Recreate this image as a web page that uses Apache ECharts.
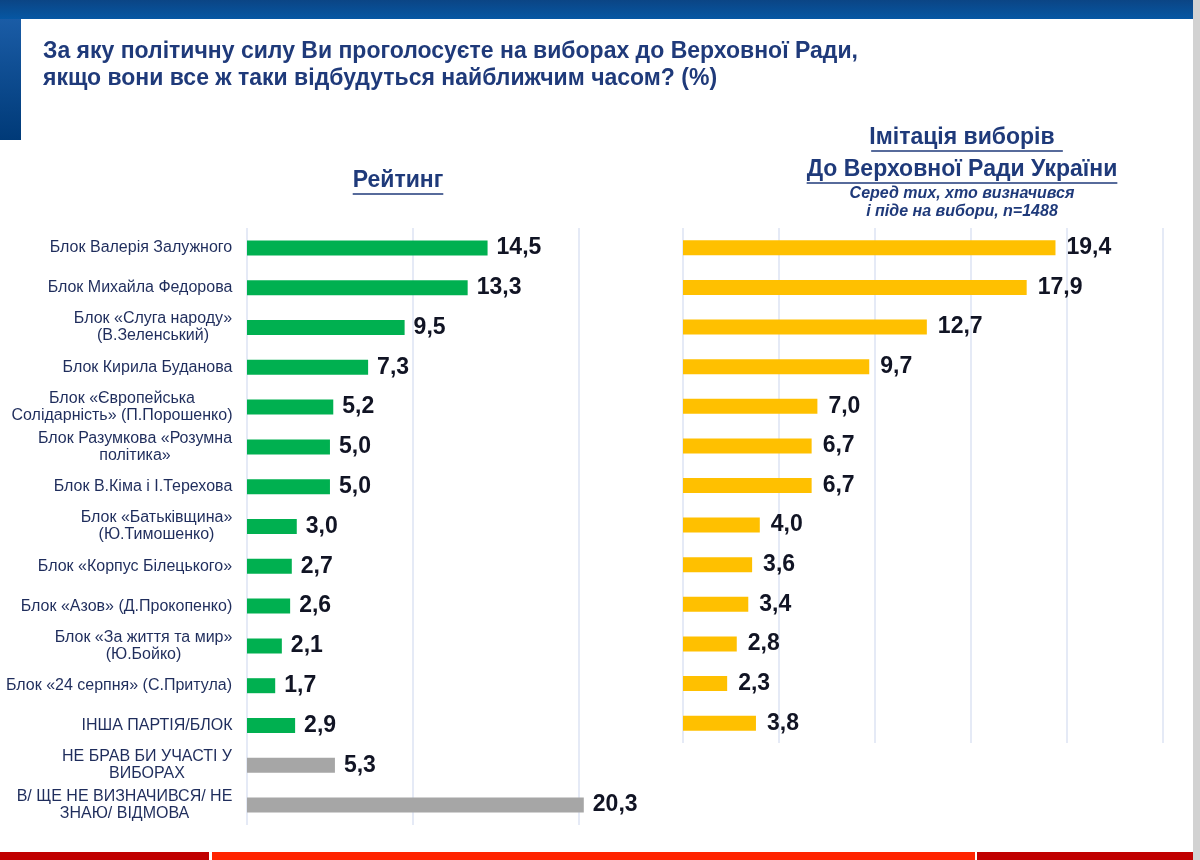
<!DOCTYPE html>
<html lang="uk">
<head>
    <meta charset="UTF-8">
    <title>Рейтинг та імітація виборів</title>
    <script src="https://cdn.jsdelivr.net/npm/echarts@6/dist/echarts.min.js"></script>
    <style>
        html, body { margin: 0; padding: 0; background: #fff; }
        #chart { width: 1200px; height: 860px; }
    </style>
</head>
<body>
    <div id="chart"></div>

    <script>
        // категорії (спільні для обох діаграм, останні дві - лише в рейтингу)
        var categories = [
            'Блок Валерія Залужного',
            'Блок Михайла Федорова',
            'Блок «Слуга народу»\n(В.Зеленський)',
            'Блок Кирила Буданова',
            'Блок «Європейська\nСолідарність» (П.Порошенко)',
            'Блок Разумкова «Розумна\nполітика»',
            'Блок В.Кіма і І.Терехова',
            'Блок «Батьківщина»\n(Ю.Тимошенко)',
            'Блок «Корпус Білецького»',
            'Блок «Азов» (Д.Прокопенко)',
            'Блок «За життя та мир»\n(Ю.Бойко)',
            'Блок «24 серпня» (С.Притула)',
            'ІНША ПАРТІЯ/БЛОК',
            'НЕ БРАВ БИ УЧАСТІ У\nВИБОРАХ',
            'В/ ЩЕ НЕ ВИЗНАЧИВСЯ/ НЕ\nЗНАЮ/ ВІДМОВА'
        ];
        var rating = [14.5, 13.3, 9.5, 7.3, 5.2, 5.0, 5.0, 3.0, 2.7, 2.6, 2.1, 1.7, 2.9, 5.3, 20.3];
        var simulation = [19.4, 17.9, 12.7, 9.7, 7.0, 6.7, 6.7, 4.0, 3.6, 3.4, 2.8, 2.3, 3.8];
        // скільки рядків у рейтингу - партії (решта сірі)
        var partyRows = 13;

        var NAVY = '#1f3a7a';
        var LABEL = '#1f2d5c';
        var GRID = '#dce3f3';
        var FONT = '"Liberation Sans", Arial, sans-serif';
        var CAT_SIZE = 16;

        // ширина тексту для центрування багаторядкових підписів
        var ctx = document.createElement('canvas').getContext('2d');
        function textWidth(s, font) {
            ctx.font = font;
            return ctx.measureText(s).width;
        }

        var rich = {};
        categories.forEach(function (c, i) {
            var w = 0;
            c.split('\n').forEach(function (l) {
                w = Math.max(w, textWidth(l, CAT_SIZE + 'px ' + FONT));
            });
            rich['r' + i] = {
                width: Math.ceil(w) + 1,
                align: 'center',
                fontSize: CAT_SIZE,
                lineHeight: 17,
                color: LABEL,
                fontFamily: FONT
            };
        });

        function fmt(p) {
            return p.value.toFixed(1).replace('.', ',');
        }

        function underline(text, cx, y, font) {
            var w = textWidth(text, font);
            return {
                type: 'line',
                shape: { x1: cx - w / 2, y1: y, x2: cx + w / 2, y2: y },
                style: { stroke: NAVY, lineWidth: 1.5 }
            };
        }

        var headFont = 'bold 23px ' + FONT;

        var chart = echarts.init(document.getElementById('chart'), null, { renderer: 'canvas' });

        var option = {
            backgroundColor: '#fff',
            animation: false,
            graphic: [
                // верхня синя смуга
                {
                    type: 'rect', shape: { x: 0, y: 0, width: 1193, height: 19 },
                    style: { fill: new echarts.graphic.LinearGradient(0, 0, 0, 1, [
                        { offset: 0, color: '#0b4585' }, { offset: 1, color: '#0657a3' }]) }
                },
                // лівий синій блок
                {
                    type: 'rect', shape: { x: 0, y: 19, width: 21, height: 121 },
                    style: { fill: new echarts.graphic.LinearGradient(0, 0, 0, 1, [
                        { offset: 0, color: '#1a5ca6' }, { offset: 1, color: '#003a78' }]) }
                },
                // права сіра смуга
                { type: 'rect', shape: { x: 1193, y: 0, width: 7, height: 860 }, style: { fill: '#d2d2d2' } },
                // нижня червона смуга
                { type: 'rect', shape: { x: 0, y: 852, width: 209, height: 8 }, style: { fill: '#c00000' } },
                { type: 'rect', shape: { x: 212, y: 852, width: 763, height: 8 }, style: { fill: '#ff2400' } },
                { type: 'rect', shape: { x: 977, y: 852, width: 216, height: 8 }, style: { fill: '#c00000' } },
                // заголовок
                {
                    type: 'text', left: 43, top: 38,
                    style: {
                        text: 'За яку політичну силу Ви проголосуєте на виборах до Верховної Ради,\nякщо вони все ж таки відбудуться найближчим часом? (%)',
                        font: 'bold 23px ' + FONT, fill: NAVY, lineHeight: 27
                    }
                },
                // підзаголовки панелей
                {
                    type: 'text', x: 398, y: 181,
                    style: { text: 'Рейтинг', font: headFont, fill: NAVY, align: 'center', verticalAlign: 'middle' }
                },
                underline('Рейтинг', 398, 194, headFont),
                {
                    type: 'text', x: 962, y: 138,
                    style: { text: 'Імітація виборів', font: headFont, fill: NAVY, align: 'center', verticalAlign: 'middle' }
                },
                underline('Імітація виборів ', 967, 151, headFont),
                {
                    type: 'text', x: 962, y: 170,
                    style: { text: 'До Верховної Ради України', font: headFont, fill: NAVY, align: 'center', verticalAlign: 'middle' }
                },
                underline('До Верховної Ради України', 962, 183, headFont),
                {
                    type: 'text', x: 962, y: 203,
                    style: {
                        text: 'Серед тих, хто визначився\nі піде на вибори, n=1488',
                        font: 'italic bold 16px ' + FONT, fill: NAVY, align: 'center',
                        verticalAlign: 'middle', lineHeight: 18
                    }
                }
            ],
            grid: [
                { left: 247, top: 228, width: 365, height: 597 },
                { left: 683, top: 228, width: 480, height: 515 }
            ],
            xAxis: [
                {
                    gridIndex: 0, type: 'value', min: 0, max: 22, interval: 10,
                    axisLabel: { show: false }, axisTick: { show: false }, axisLine: { show: false },
                    splitLine: { show: true, showMaxLine: false, lineStyle: { color: GRID, width: 1.5 } }
                },
                {
                    gridIndex: 1, type: 'value', min: 0, max: 25, interval: 5,
                    axisLabel: { show: false }, axisTick: { show: false }, axisLine: { show: false },
                    splitLine: { show: true, lineStyle: { color: GRID, width: 1.5 } }
                }
            ],
            yAxis: [
                {
                    gridIndex: 0, type: 'category', inverse: true, data: categories,
                    axisLine: { show: false }, axisTick: { show: false },
                    axisLabel: {
                        interval: 0, margin: 14, rich: rich,
                        formatter: function (value, index) {
                            return value.split('\n').map(function (l) {
                                return '{r' + index + '|' + l + '}';
                            }).join('\n');
                        }
                    }
                },
                {
                    gridIndex: 1, type: 'category', inverse: true, data: categories.slice(0, simulation.length),
                    axisLine: { show: false }, axisTick: { show: false }, axisLabel: { show: false }
                }
            ],
            series: [
                {
                    name: 'Рейтинг', type: 'bar', xAxisIndex: 0, yAxisIndex: 0,
                    data: rating, barWidth: 15,
                    itemStyle: {
                        color: function (p) { return p.dataIndex < partyRows ? '#00b050' : '#a6a6a6'; }
                    },
                    label: {
                        show: true, position: 'right', distance: 9, formatter: fmt,
                        fontSize: 23, fontWeight: 'bold', color: '#111424', fontFamily: FONT
                    }
                },
                {
                    name: 'Імітація виборів', type: 'bar', xAxisIndex: 1, yAxisIndex: 1,
                    data: simulation, barWidth: 15,
                    itemStyle: { color: '#ffc000' },
                    label: {
                        show: true, position: 'right', distance: 11, formatter: fmt,
                        fontSize: 23, fontWeight: 'bold', color: '#111424', fontFamily: FONT
                    }
                }
            ]
        };

        chart.setOption(option);
    </script>
</body>
</html>
